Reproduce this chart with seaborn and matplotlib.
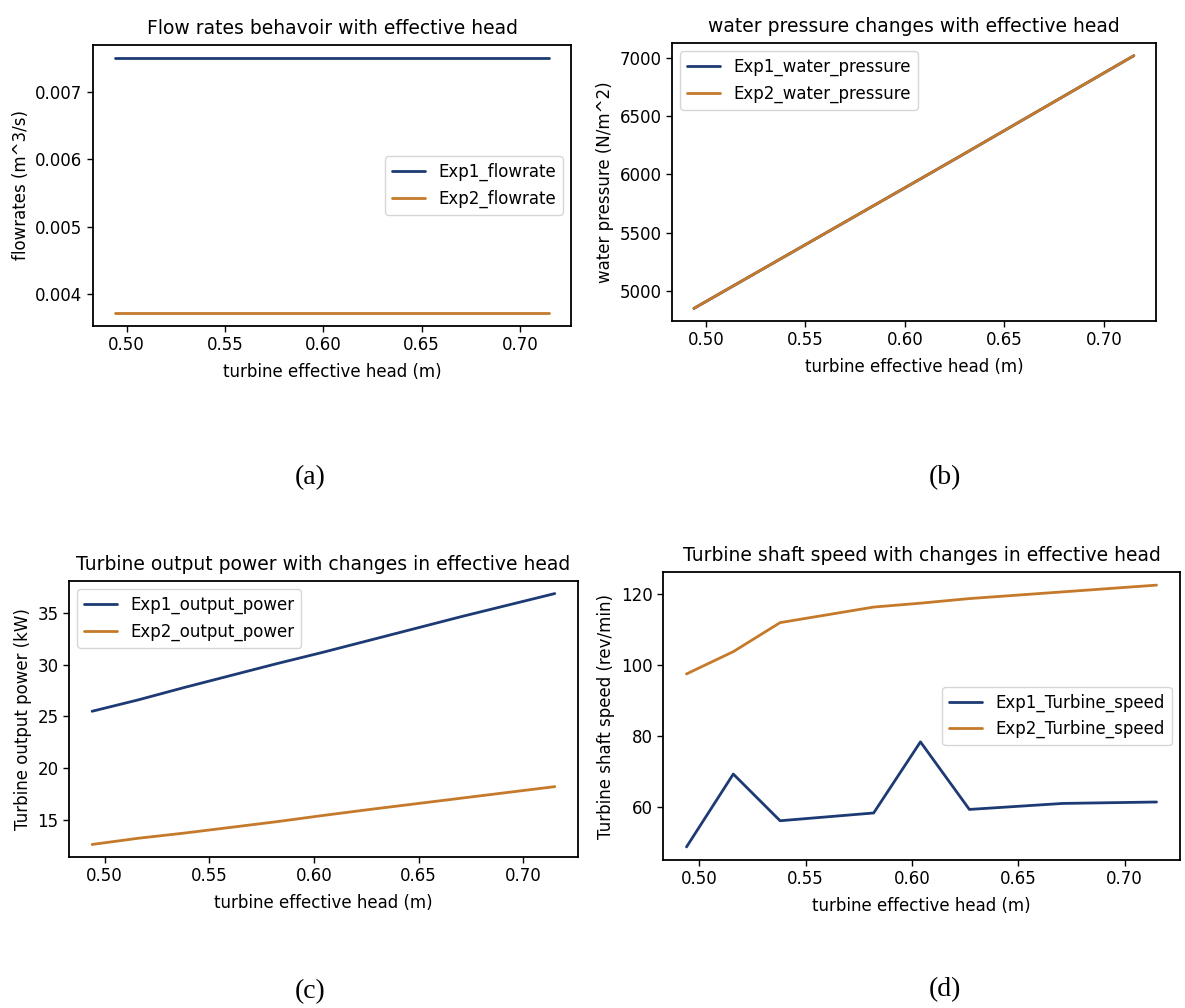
import matplotlib
matplotlib.use("Agg")
import matplotlib.pyplot as plt
import seaborn as sns
import pandas as pd

# effective head readings (m)
head = [0.494, 0.516, 0.538, 0.582, 0.604, 0.627, 0.671, 0.715]

exp1_flowrate = [0.0075] * 8
exp2_flowrate = [0.00372] * 8

exp1_pressure = [4850, 5065, 5280, 5710, 5925, 6150, 6585, 7020]
exp2_pressure = [4850, 5065, 5280, 5710, 5925, 6150, 6585, 7020]

exp1_power = [25.5, 26.6, 27.8, 30.1, 31.2, 32.4, 34.7, 36.9]
exp2_power = [12.6, 13.2, 13.7, 14.8, 15.4, 16.0, 17.1, 18.2]

exp1_speed = [48.6, 69.2, 56.0, 58.2, 78.3, 59.2, 60.9, 61.3]
exp2_speed = [97.5, 103.8, 112.0, 116.4, 117.5, 118.8, 120.7, 122.6]

sns.set_theme(style="ticks")
plt.rcParams['font.family'] = ['DejaVu Sans']
plt.rcParams['axes.edgecolor'] = 'black'
plt.rcParams['axes.linewidth'] = 1.3
plt.rcParams['text.color'] = 'black'
plt.rcParams['axes.labelcolor'] = 'black'
plt.rcParams['xtick.color'] = 'black'
plt.rcParams['ytick.color'] = 'black'

c1 = '#1d3a74'
c2 = '#c47a2a'

fig = plt.figure(figsize=(11.85, 10.08), dpi=100)

panels = [
    # pos, y1, y2, names, title, ylabel, legend loc, yticks, tag, tag pos
    ([0.0785, 0.6766, 0.4034, 0.2788], exp1_flowrate, exp2_flowrate,
     ('Exp1_flowrate', 'Exp2_flowrate'),
     'Flow rates behavoir with effective head', 'flowrates (m^3/s)',
     'center right', [0.004, 0.005, 0.006, 0.007], '(a)', (0.262, 0.526)),
    ([0.567, 0.6815, 0.4084, 0.2758], exp1_pressure, exp2_pressure,
     ('Exp1_water_pressure', 'Exp2_water_pressure'),
     'water pressure changes with effective head', 'water pressure (N/m^2)',
     'upper left', [5000, 5500, 6000, 6500, 7000], '(b)', (0.797, 0.526)),
    ([0.0582, 0.1498, 0.4295, 0.2738], exp1_power, exp2_power,
     ('Exp1_output_power', 'Exp2_output_power'),
     'Turbine output power with changes in effective head', 'Turbine output power (kW)',
     'upper left', [15, 20, 25, 30, 35], '(c)', (0.262, 0.016)),
    ([0.5595, 0.1468, 0.4363, 0.2857], exp1_speed, exp2_speed,
     ('Exp1_Turbine_speed', 'Exp2_Turbine_speed'),
     'Turbine shaft speed with changes in effective head', 'Turbine shaft speed (rev/min)',
     'center right', [60, 80, 100, 120], '(d)', (0.797, 0.018)),
]

for pos, y1, y2, names, title, ylabel, loc, yt, tag, tagpos in panels:
    ax = fig.add_axes(pos)
    df = pd.DataFrame({'head': head * 2,
                       'value': list(y1) + list(y2),
                       'series': [names[0]] * len(head) + [names[1]] * len(head)})
    sns.lineplot(data=df, x='head', y='value', hue='series',
                 palette=[c1, c2], linewidth=2, ax=ax)
    ax.set_title(title, fontsize=13.5, pad=8)
    ax.set_xlabel('turbine effective head (m)', fontsize=12, labelpad=6)
    ax.set_ylabel(ylabel, fontsize=12)
    ax.tick_params(labelsize=12, length=4, width=1, color='black')
    ax.set_xticks([0.50, 0.55, 0.60, 0.65, 0.70])
    ax.set_yticks(yt)
    leg = ax.legend(loc=loc, fontsize=12, title=None, frameon=True)
    leg.get_frame().set_edgecolor('#cccccc')
    fig.text(tagpos[0], tagpos[1], tag, ha='center', va='center',
             fontsize=20, family=['Liberation Serif', 'DejaVu Serif'])

fig.savefig('out.png', dpi=100, facecolor='white')
